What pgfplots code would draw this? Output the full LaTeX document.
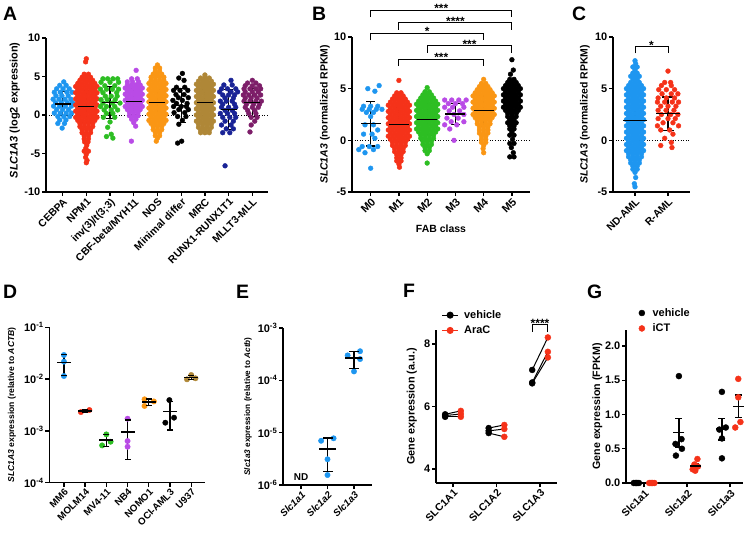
\documentclass[border=0pt]{standalone}
\usepackage{fontspec}
\setmainfont{Liberation Sans}
\usepackage{pgfplots}
\pgfplotsset{compat=1.18}

\definecolor{cBlue}{RGB}{30,150,240}
\definecolor{cRed}{RGB}{245,50,25}
\definecolor{cGreen}{RGB}{45,190,35}
\definecolor{cPurple}{RGB}{185,75,230}
\definecolor{cOrange}{RGB}{250,150,20}
\definecolor{cBrown}{RGB}{175,135,55}
\definecolor{cNavy}{RGB}{25,35,150}
\definecolor{cPlum}{RGB}{125,30,105}

\newcommand{\fsz}[1]{\fontsize{#1}{#1}\selectfont}

\pgfplotsset{
  panel/.style={
    scale only axis, clip=false, anchor=south west,
    axis x line*=bottom, axis y line*=left,
    axis line style={line width=1.3bp,-},
    every tick/.style={black, line width=1.3bp},
    tick align=outside, major tick length=4bp,
    minor tick num=0,
    tick label style={font=\bfseries\fsz{11}},
    yticklabel style={inner sep=1.5bp},
    xticklabel style={rotate=45, anchor=north east, inner sep=1bp, font=\bfseries\fsz{10.5}},
    ylabel style={anchor=center},
    label style={font=\bfseries\fsz{10.5}},
  },
  dots/.style={only marks, mark=*, color=#1, mark size=2.4bp, mark options={draw=none}},
  zeroline/.style={black, line width=0.8bp, dash pattern=on 1bp off 1.6bp, forget plot},
  meanbar/.style 2 args={black, only marks, mark=-, mark size=#1,
    mark options={line width=1.4bp},
    error bars/.cd, y dir=both, y explicit,
    error bar style={line width=1.2bp, black},
    error mark options={rotate=90, mark size=#2, line width=1.2bp, black}},
  whisk/.style={black, line width=1.2bp, mark=none},
  hbar/.style={black, only marks, mark=-, mark size=#1, mark options={line width=1.3bp}},
}

\begin{document}
\begin{tikzpicture}
\useasboundingbox (0bp,0bp) rectangle (750bp,536bp);

% ---------------- panel letters
\node[anchor=base west, inner sep=0pt, font=\bfseries\fsz{19.5}] at (3bp,515bp) {A};
\node[anchor=base west, inner sep=0pt, font=\bfseries\fsz{19.5}] at (312bp,515bp) {B};
\node[anchor=base west, inner sep=0pt, font=\bfseries\fsz{19.5}] at (572bp,515bp) {C};
\node[anchor=base west, inner sep=0pt, font=\bfseries\fsz{19.5}] at (3bp,237bp) {D};
\node[anchor=base west, inner sep=0pt, font=\bfseries\fsz{19.5}] at (236bp,237bp) {E};
\node[anchor=base west, inner sep=0pt, font=\bfseries\fsz{19.5}] at (403bp,238bp) {F};
\node[anchor=base west, inner sep=0pt, font=\bfseries\fsz{19.5}] at (587bp,237bp) {G};

% ================= A: WHO subtypes
\begin{axis}[panel, at={(46bp,344bp)}, width=222bp, height=154bp,
  xmin=-0.7, xmax=8.66, ymin=-10, ymax=10,
  xtick={0,...,8},
  xticklabels={CEBPA,NPM1,{inv(3)/t(3;3)},{CBF-beta/MYH11},NOS,{Minimal differ},MRC,RUNX1-RUNX1T1,MLLT3-MLL},
  ytick={-10,-5,0,5,10}, yticklabels={-10,-5,0,5,10},
  ylabel={\textit{SLC1A3} (log2 expression)},
  ylabel style={at={(axis description cs:-0.14,0.53)}, font=\bfseries\fsz{11}}]
\addplot[zeroline] coordinates {(-0.7,0) (8.66,0)};
% CEBPA
\addplot[dots=cBlue] coordinates {(0.05,4.3)
(-0.12,3.85)(0.15,3.85)(-0.25,3.4)(0.02,3.4)(0.28,3.4)
(-0.35,2.95)(-0.1,2.95)(0.18,2.95)(0.4,2.95)(-0.28,2.5)(-0.03,2.5)(0.24,2.5)
(-0.4,2.05)(-0.15,2.05)(0.1,2.05)(0.35,2.05)(-0.3,1.6)(-0.05,1.6)(0.2,1.6)(0.42,1.6)
(-0.38,1.15)(-0.13,1.15)(0.12,1.15)(0.37,1.15)(-0.25,0.7)(0,0.7)(0.25,0.7)
(-0.35,0.25)(-0.1,0.25)(0.15,0.25)(0.38,0.25)(-0.2,-0.2)(0.05,-0.2)(0.3,-0.2)
(-0.12,-0.65)(0.14,-0.65)(-0.2,-1.1)(0.08,-1.1)(-0.02,-1.7)};
% NPM1
\addplot[dots=cRed] coordinates {(1,7.3)(0.97,6.9)
(0.91,5.3)(1.09,5.3)(0.82,4.9)(1,4.9)(1.18,4.9)
(0.73,4.5)(0.91,4.5)(1.09,4.5)(1.27,4.5)
(0.64,4.1)(0.82,4.1)(1,4.1)(1.18,4.1)(1.36,4.1)
(0.55,3.7)(0.73,3.7)(0.91,3.7)(1.09,3.7)(1.27,3.7)(1.45,3.7)
(0.64,3.3)(0.82,3.3)(1,3.3)(1.18,3.3)(1.36,3.3)
(0.55,2.9)(0.73,2.9)(0.91,2.9)(1.09,2.9)(1.27,2.9)(1.45,2.9)
(0.64,2.5)(0.82,2.5)(1,2.5)(1.18,2.5)(1.36,2.5)
(0.55,2.1)(0.73,2.1)(0.91,2.1)(1.09,2.1)(1.27,2.1)(1.45,2.1)
(0.64,1.7)(0.82,1.7)(1,1.7)(1.18,1.7)(1.36,1.7)
(0.55,1.3)(0.73,1.3)(0.91,1.3)(1.09,1.3)(1.27,1.3)(1.45,1.3)
(0.64,0.9)(0.82,0.9)(1,0.9)(1.18,0.9)(1.36,0.9)
(0.55,0.5)(0.73,0.5)(0.91,0.5)(1.09,0.5)(1.27,0.5)(1.45,0.5)
(0.64,0.1)(0.82,0.1)(1,0.1)(1.18,0.1)(1.36,0.1)
(0.55,-0.3)(0.73,-0.3)(0.91,-0.3)(1.09,-0.3)(1.27,-0.3)(1.45,-0.3)
(0.64,-0.7)(0.82,-0.7)(1,-0.7)(1.18,-0.7)(1.36,-0.7)
(0.73,-1.1)(0.91,-1.1)(1.09,-1.1)(1.27,-1.1)
(0.73,-1.5)(0.91,-1.5)(1.09,-1.5)(1.27,-1.5)
(0.82,-1.9)(1,-1.9)(1.18,-1.9)(0.82,-2.3)(1,-2.3)(1.18,-2.3)
(0.91,-2.7)(1.09,-2.7)(0.91,-3.1)(1.09,-3.1)(0.93,-3.5)(1.07,-3.5)
(1.02,-3.9)(0.98,-4.3)(0.91,-4.7)(1.09,-4.7)
(1,-5.1)(0.97,-5.5)(1.03,-5.9)(1,-6.2)};
% inv(3)/t(3;3)
\addplot[dots=cGreen] coordinates {(1.7,4.7)(1.9,4.7)(2.12,4.7)(2.32,4.7)
(1.62,4.25)(2,4.25)(2.36,4.25)(1.78,3.8)(2.2,3.8)
(1.6,3.35)(1.85,3.35)(2.1,3.35)(2.36,3.35)(1.7,2.9)(2.28,2.9)
(1.8,2.45)(2.05,2.45)(2.3,2.45)(1.62,2.0)(1.88,2.0)(2.22,2.0)
(1.7,1.55)(2.1,1.55)(2.42,1.55)(1.6,1.1)(1.85,1.1)(2.2,1.1)
(1.75,0.65)(2.05,0.65)(2.32,0.65)(1.85,0.2)(2.12,0.2)
(1.72,-0.3)(2.2,-0.3)(2,-0.9)(1.9,-1.6)(2.05,-2.5)(1.85,-2.8)(2.12,-3.0)};
% CBF-beta/MYH11
\addplot[dots=cPurple] coordinates {(3.1,5.8)
(2.91,4.7)(3.15,4.7)(2.73,4.3)(2.95,4.3)(3.2,4.3)
(2.73,3.9)(2.91,3.9)(3.09,3.9)(3.27,3.9)
(2.64,3.5)(2.82,3.5)(3,3.5)(3.18,3.5)(3.36,3.5)
(2.73,3.1)(2.91,3.1)(3.09,3.1)(3.27,3.1)
(2.64,2.7)(2.82,2.7)(3,2.7)(3.18,2.7)(3.36,2.7)
(2.73,2.3)(2.91,2.3)(3.09,2.3)(3.27,2.3)
(2.64,1.9)(2.82,1.9)(3,1.9)(3.18,1.9)(3.36,1.9)
(2.73,1.5)(2.91,1.5)(3.09,1.5)(3.27,1.5)
(2.64,1.1)(2.82,1.1)(3,1.1)(3.18,1.1)(3.36,1.1)
(2.73,0.7)(2.91,0.7)(3.09,0.7)(3.27,0.7)
(2.82,0.3)(3,0.3)(3.18,0.3)(2.82,-0.1)(3,-0.1)(3.18,-0.1)
(2.91,-0.55)(3.09,-0.55)(3,-1.0)(3.08,-1.45)(2.9,-3.4)};
% NOS
\addplot[dots=cOrange] coordinates {(4,6.5)
(3.91,6.1)(4.09,6.1)(3.91,5.7)(4.09,5.7)(3.82,5.3)(4,5.3)(4.18,5.3)
(3.73,4.9)(3.91,4.9)(4.09,4.9)(4.27,4.9)(3.73,4.5)(3.91,4.5)(4.09,4.5)(4.27,4.5)
(3.64,4.1)(3.82,4.1)(4,4.1)(4.18,4.1)(4.36,4.1)
(3.73,3.7)(3.91,3.7)(4.09,3.7)(4.27,3.7)
(3.64,3.3)(3.82,3.3)(4,3.3)(4.18,3.3)(4.36,3.3)
(3.73,2.9)(3.91,2.9)(4.09,2.9)(4.27,2.9)
(3.64,2.5)(3.82,2.5)(4,2.5)(4.18,2.5)(4.36,2.5)
(3.73,2.1)(3.91,2.1)(4.09,2.1)(4.27,2.1)
(3.64,1.7)(3.82,1.7)(4,1.7)(4.18,1.7)(4.36,1.7)
(3.73,1.3)(3.91,1.3)(4.09,1.3)(4.27,1.3)
(3.64,0.9)(3.82,0.9)(4,0.9)(4.18,0.9)(4.36,0.9)
(3.73,0.5)(3.91,0.5)(4.09,0.5)(4.27,0.5)
(3.64,0.1)(3.82,0.1)(4,0.1)(4.18,0.1)(4.36,0.1)
(3.73,-0.3)(3.91,-0.3)(4.09,-0.3)(4.27,-0.3)
(3.64,-0.7)(3.82,-0.7)(4,-0.7)(4.18,-0.7)(4.36,-0.7)
(3.73,-1.1)(3.91,-1.1)(4.09,-1.1)(4.27,-1.1)
(3.82,-1.5)(4,-1.5)(4.18,-1.5)(3.82,-1.9)(4,-1.9)(4.18,-1.9)
(3.91,-2.3)(4.09,-2.3)(3.91,-2.7)(4.09,-2.7)(4,-3.0)(3.95,-3.4)};
% Minimal differentiation
\addplot[dots=black] coordinates {(5.05,5.4)(4.9,4.8)(5.12,4.5)
(4.8,3.6)(5.15,3.6)(4.68,3.2)(4.95,3.2)(5.28,3.2)(4.78,2.65)(5.12,2.65)
(4.88,2.25)(5.3,2.25)(4.65,1.9)(5.05,1.9)(4.8,1.5)(5.25,1.5)
(4.68,1.1)(5,1.1)(5.22,1.1)(4.9,0.7)(5.3,0.7)(4.7,0.3)(5.15,0.3)
(4.85,-0.2)(5.2,-0.2)(5.05,-0.7)(4.9,-1.2)(5.02,-3.4)(4.85,-3.65)};
% MRC
\addplot[dots=cBrown] coordinates {(6,5.2)
(5.82,4.8)(6,4.8)(6.18,4.8)(5.73,4.4)(5.91,4.4)(6.09,4.4)(6.27,4.4)
(5.64,4.0)(5.82,4.0)(6,4.0)(6.18,4.0)(6.36,4.0)
(5.73,3.6)(5.91,3.6)(6.09,3.6)(6.27,3.6)
(5.64,3.2)(5.82,3.2)(6,3.2)(6.18,3.2)(6.36,3.2)
(5.73,2.8)(5.91,2.8)(6.09,2.8)(6.27,2.8)
(5.64,2.4)(5.82,2.4)(6,2.4)(6.18,2.4)(6.36,2.4)
(5.73,2.0)(5.91,2.0)(6.09,2.0)(6.27,2.0)
(5.64,1.6)(5.82,1.6)(6,1.6)(6.18,1.6)(6.36,1.6)
(5.73,1.2)(5.91,1.2)(6.09,1.2)(6.27,1.2)
(5.64,0.8)(5.82,0.8)(6,0.8)(6.18,0.8)(6.36,0.8)
(5.73,0.4)(5.91,0.4)(6.09,0.4)(6.27,0.4)
(5.64,0.0)(5.82,0.0)(6,0.0)(6.18,0.0)(6.36,0.0)
(5.73,-0.4)(5.91,-0.4)(6.09,-0.4)(6.27,-0.4)
(5.64,-0.8)(5.82,-0.8)(6,-0.8)(6.18,-0.8)(6.36,-0.8)
(5.73,-1.2)(5.91,-1.2)(6.09,-1.2)(6.27,-1.2)
(5.73,-1.6)(5.91,-1.6)(6.09,-1.6)(6.27,-1.6)
(5.82,-2.0)(6,-2.0)(6.18,-2.0)(5.82,-2.3)(6,-2.3)(6.18,-2.3)};
% RUNX1-RUNX1T1
\addplot[dots=cNavy] coordinates {(7.1,4.5)
(6.8,3.9)(7.15,3.9)(6.7,3.4)(6.95,3.4)(7.3,3.4)(6.62,3.0)(7.1,3.0)(7.38,3.0)
(6.75,2.6)(7,2.6)(7.25,2.6)(6.85,2.2)(7.2,2.2)(6.65,1.8)(6.9,1.8)(7.15,1.8)
(6.75,1.4)(7.25,1.4)(6.7,1.0)(7,1.0)(7.3,1.0)(6.85,0.6)(7.15,0.6)
(6.65,0.2)(6.95,0.2)(7.25,0.2)(6.75,-0.3)(7.05,-0.3)(7.3,-0.3)
(6.85,-0.8)(7.2,-0.8)(6.7,-1.3)(7.1,-1.3)(6.9,-1.8)(7.2,-1.8)
(6.75,-2.3)(7.05,-2.3)(6.85,-6.6)};
% MLLT3-MLL
\addplot[dots=cPlum] coordinates {(8,4.5)
(7.8,4.15)(8.15,4.15)(7.7,3.8)(8,3.8)(8.3,3.8)
(7.65,3.4)(7.9,3.4)(8.15,3.4)(8.35,3.4)(7.7,3.0)(8,3.0)(8.25,3.0)
(7.62,2.6)(7.85,2.6)(8.1,2.6)(8.35,2.6)(7.7,2.2)(7.95,2.2)(8.2,2.2)
(7.65,1.8)(7.9,1.8)(8.15,1.8)(8.38,1.8)(7.75,1.4)(8.05,1.4)(8.3,1.4)
(7.7,1.0)(8,1.0)(8.25,1.0)(7.8,0.6)(8.1,0.6)(7.85,0.2)(8.15,0.2)
(7.95,-0.3)(8.2,-0.3)(8.1,-0.8)(7.95,-1.3)(7.9,-2.2)};
% mean +- SD
\addplot[meanbar={8bp}{4.5bp}] table[row sep=\\, x=x, y=m, y error=s] {
x m s\\ 0 1.45 1.55\\ 1 1.08 2.12\\ 2 1.6 2.06\\ 3 1.72 1.72\\ 4 1.64 1.72\\
5 1.2 2.2\\ 6 1.6 1.7\\ 7 0.73 2.63\\ 8 1.6 1.8\\};
\end{axis}

% ================= B: FAB class
\begin{axis}[panel, at={(352bp,344bp)}, width=178bp, height=155bp,
  xmin=-0.66, xmax=5.64, ymin=-5, ymax=10,
  xtick={0,...,5}, xticklabels={M0,M1,M2,M3,M4,M5},
  xticklabel style={font=\bfseries\fsz{11}},
  ytick={-5,0,5,10}, yticklabels={-5,0,5,10},
  ylabel={\textit{SLC1A3} (normalized RPKM)},
  ylabel style={at={(axis description cs:-0.152,0.5)}},
  xlabel={FAB class},
  xlabel style={at={(axis description cs:0.5,0)}, anchor=center, yshift=-37bp}]
\addplot[zeroline] coordinates {(-0.66,0) (5.64,0)};
% M0
\addplot[dots=cBlue] coordinates {(0.3,5.3)(-0.1,5.0)(0.15,4.75)
(-0.25,3.3)(0,3.3)(0.25,3.3)(-0.3,3.0)(-0.05,3.0)(0.2,3.0)(0.4,3.0)
(-0.15,2.7)(0.1,2.7)(0,2.3)(-0.2,1.5)(0.1,1.5)(0.25,1.0)(-0.25,0.6)(0.05,0.6)
(0.15,0.2)(-0.3,-0.6)(-0.05,-0.6)(0.25,-0.6)(-0.42,-0.9)(0.1,-0.9)(-0.2,-1.2)(0,-2.7)};
% M1
\addplot[dots=cRed] coordinates {(1,5.8)
(0.925,4.6)(1.075,4.6)(0.85,4.3)(1,4.3)(1.15,4.3)
(0.775,4.0)(0.925,4.0)(1.075,4.0)(1.225,4.0)
(0.7,3.7)(0.85,3.7)(1,3.7)(1.15,3.7)(1.3,3.7)
(0.625,3.4)(0.775,3.4)(0.925,3.4)(1.075,3.4)(1.225,3.4)(1.375,3.4)
(0.7,3.1)(0.85,3.1)(1,3.1)(1.15,3.1)(1.3,3.1)
(0.625,2.8)(0.775,2.8)(0.925,2.8)(1.075,2.8)(1.225,2.8)(1.375,2.8)
(0.7,2.5)(0.85,2.5)(1,2.5)(1.15,2.5)(1.3,2.5)
(0.625,2.2)(0.775,2.2)(0.925,2.2)(1.075,2.2)(1.225,2.2)(1.375,2.2)
(0.7,1.9)(0.85,1.9)(1,1.9)(1.15,1.9)(1.3,1.9)
(0.625,1.6)(0.775,1.6)(0.925,1.6)(1.075,1.6)(1.225,1.6)(1.375,1.6)
(0.7,1.3)(0.85,1.3)(1,1.3)(1.15,1.3)(1.3,1.3)
(0.625,1.0)(0.775,1.0)(0.925,1.0)(1.075,1.0)(1.225,1.0)(1.375,1.0)
(0.7,0.7)(0.85,0.7)(1,0.7)(1.15,0.7)(1.3,0.7)
(0.625,0.4)(0.775,0.4)(0.925,0.4)(1.075,0.4)(1.225,0.4)(1.375,0.4)
(0.7,0.1)(0.85,0.1)(1,0.1)(1.15,0.1)(1.3,0.1)
(0.775,-0.2)(0.925,-0.2)(1.075,-0.2)(1.225,-0.2)
(0.775,-0.5)(0.925,-0.5)(1.075,-0.5)(1.225,-0.5)
(0.85,-0.8)(1,-0.8)(1.15,-0.8)(0.85,-1.1)(1,-1.1)(1.15,-1.1)
(0.925,-1.4)(1.075,-1.4)(0.925,-1.7)(1.075,-1.7)(0.925,-2.0)(1.075,-2.0)
(1,-2.3)(1.02,-2.6)};
% M2
\addplot[dots=cGreen] coordinates {(2,5.1)
(1.925,4.7)(2.075,4.7)(1.85,4.4)(2,4.4)(2.15,4.4)
(1.775,4.1)(1.925,4.1)(2.075,4.1)(2.225,4.1)
(1.7,3.8)(1.85,3.8)(2,3.8)(2.15,3.8)(2.3,3.8)
(1.625,3.5)(1.775,3.5)(1.925,3.5)(2.075,3.5)(2.225,3.5)(2.375,3.5)
(1.7,3.2)(1.85,3.2)(2,3.2)(2.15,3.2)(2.3,3.2)
(1.625,2.9)(1.775,2.9)(1.925,2.9)(2.075,2.9)(2.225,2.9)(2.375,2.9)
(1.7,2.6)(1.85,2.6)(2,2.6)(2.15,2.6)(2.3,2.6)
(1.625,2.3)(1.775,2.3)(1.925,2.3)(2.075,2.3)(2.225,2.3)(2.375,2.3)
(1.7,2.0)(1.85,2.0)(2,2.0)(2.15,2.0)(2.3,2.0)
(1.625,1.7)(1.775,1.7)(1.925,1.7)(2.075,1.7)(2.225,1.7)(2.375,1.7)
(1.7,1.4)(1.85,1.4)(2,1.4)(2.15,1.4)(2.3,1.4)
(1.625,1.1)(1.775,1.1)(1.925,1.1)(2.075,1.1)(2.225,1.1)(2.375,1.1)
(1.7,0.8)(1.85,0.8)(2,0.8)(2.15,0.8)(2.3,0.8)
(1.775,0.5)(1.925,0.5)(2.075,0.5)(2.225,0.5)
(1.775,0.2)(1.925,0.2)(2.075,0.2)(2.225,0.2)
(1.85,-0.1)(2,-0.1)(2.15,-0.1)(1.85,-0.4)(2,-0.4)(2.15,-0.4)
(1.925,-0.7)(2.075,-0.7)(1.925,-1.0)(2.075,-1.0)(2,-1.3)(2,-2.2)};
% M3
\addplot[dots=cPurple] coordinates {(2.62,3.9)(2.87,3.9)(3.12,3.9)(3.38,3.9)
(2.75,3.55)(3,3.55)(3.25,3.55)(2.62,3.2)(2.9,3.2)(3.3,3.2)
(2.78,2.85)(3.15,2.85)(2.95,2.5)(3.3,2.5)(2.7,2.15)(3.1,2.15)
(2.85,1.8)(3.3,1.8)(2.62,1.5)(3.05,1.5)(2.8,1.1)(2.95,0.0)};
% M4
\addplot[dots=cOrange] coordinates {(4,5.9)
(3.925,5.5)(4.075,5.5)(3.85,5.2)(4,5.2)(4.15,5.2)
(3.775,4.9)(3.925,4.9)(4.075,4.9)(4.225,4.9)
(3.7,4.6)(3.85,4.6)(4,4.6)(4.15,4.6)(4.3,4.6)
(3.625,4.3)(3.775,4.3)(3.925,4.3)(4.075,4.3)(4.225,4.3)(4.375,4.3)
(3.7,4.0)(3.85,4.0)(4,4.0)(4.15,4.0)(4.3,4.0)
(3.625,3.7)(3.775,3.7)(3.925,3.7)(4.075,3.7)(4.225,3.7)(4.375,3.7)
(3.7,3.4)(3.85,3.4)(4,3.4)(4.15,3.4)(4.3,3.4)
(3.625,3.1)(3.775,3.1)(3.925,3.1)(4.075,3.1)(4.225,3.1)(4.375,3.1)
(3.7,2.8)(3.85,2.8)(4,2.8)(4.15,2.8)(4.3,2.8)
(3.625,2.5)(3.775,2.5)(3.925,2.5)(4.075,2.5)(4.225,2.5)(4.375,2.5)
(3.7,2.2)(3.85,2.2)(4,2.2)(4.15,2.2)(4.3,2.2)
(3.775,1.9)(3.925,1.9)(4.075,1.9)(4.225,1.9)
(3.775,1.6)(3.925,1.6)(4.075,1.6)(4.225,1.6)
(3.85,1.3)(4,1.3)(4.15,1.3)(3.85,1.0)(4,1.0)(4.15,1.0)(3.85,0.7)(4,0.7)(4.15,0.7)
(3.925,0.4)(4.075,0.4)(3.925,0.1)(4.075,0.1)(3.925,-0.2)(4.075,-0.2)
(4,-0.5)(3.98,-0.8)(4,-1.2)};
% M5
\addplot[dots=black] coordinates {(5,7.8)(5.05,6.8)(4.95,6.4)
(4.925,5.9)(5.075,5.9)(4.85,5.6)(5,5.6)(5.15,5.6)
(4.775,5.3)(4.925,5.3)(5.075,5.3)(5.225,5.3)
(4.7,5.0)(4.85,5.0)(5,5.0)(5.15,5.0)(5.3,5.0)
(4.775,4.7)(4.925,4.7)(5.075,4.7)(5.225,4.7)
(4.7,4.4)(4.85,4.4)(5,4.4)(5.15,4.4)(5.3,4.4)
(4.775,4.1)(4.925,4.1)(5.075,4.1)(5.225,4.1)
(4.7,3.8)(4.85,3.8)(5,3.8)(5.15,3.8)(5.3,3.8)
(4.775,3.5)(4.925,3.5)(5.075,3.5)(5.225,3.5)
(4.7,3.2)(4.85,3.2)(5,3.2)(5.15,3.2)(5.3,3.2)
(4.775,2.9)(4.925,2.9)(5.075,2.9)(5.225,2.9)
(4.85,2.6)(5,2.6)(5.15,2.6)(4.85,2.3)(5,2.3)(5.15,2.3)
(4.925,2.0)(5.075,2.0)(4.85,1.7)(5,1.7)(5.15,1.7)
(4.925,1.4)(5.075,1.4)(4.925,1.1)(5.075,1.1)(5,0.8)
(4.925,0.5)(5.075,0.5)(5.02,0.1)(4.925,-0.3)(5.075,-0.3)
(4.98,-0.7)(5.05,-1.2)(4.925,-1.6)(5.075,-1.6)};
\addplot[meanbar={10bp}{4.5bp}] table[row sep=\\, x=x, y=m, y error=s] {
x m s\\ 0 1.61 2.16\\ 1 1.52 1.70\\ 2 2.03 1.57\\ 3 2.55 1.05\\ 4 2.87 1.48\\ 5 3.35 1.55\\};
% pairwise comparisons
\draw[line width=1bp] (axis cs:0,11.92) -- (axis cs:0,12.6) -- (axis cs:5,12.6) -- (axis cs:5,11.92);
\node[anchor=base, inner sep=0pt, font=\bfseries\fsz{12}] at (axis cs:2.5,12.36) {***};
\draw[line width=1bp] (axis cs:1,10.72) -- (axis cs:1,11.4) -- (axis cs:5,11.4) -- (axis cs:5,10.72);
\node[anchor=base, inner sep=0pt, font=\bfseries\fsz{12}] at (axis cs:3,11.16) {****};
\draw[line width=1bp] (axis cs:0,9.67) -- (axis cs:0,10.35) -- (axis cs:4,10.35) -- (axis cs:4,9.67);
\node[anchor=base, inner sep=0pt, font=\bfseries\fsz{12}] at (axis cs:2,10.11) {*};
\draw[line width=1bp] (axis cs:2,8.47) -- (axis cs:2,9.15) -- (axis cs:5,9.15) -- (axis cs:5,8.47);
\node[anchor=base, inner sep=0pt, font=\bfseries\fsz{12}] at (axis cs:3.5,8.91) {***};
\draw[line width=1bp] (axis cs:1,7.17) -- (axis cs:1,7.85) -- (axis cs:4,7.85) -- (axis cs:4,7.17);
\node[anchor=base, inner sep=0pt, font=\bfseries\fsz{12}] at (axis cs:2.5,7.61) {***};
\end{axis}

% ================= C: diagnosis vs relapse
\begin{axis}[panel, at={(613bp,344bp)}, width=77bp, height=155bp,
  xmin=-0.667, xmax=1.667, ymin=-5, ymax=10,
  xtick={0,1}, xticklabels={ND-AML,R-AML},
  ytick={-5,0,5,10}, yticklabels={-5,0,5,10},
  ylabel={\textit{SLC1A3} (normalized RPKM)},
  ylabel style={at={(axis description cs:-0.364,0.5)}}]
\addplot[zeroline] coordinates {(-0.667,0) (1.667,0)};
\addplot[dots=cBlue] coordinates {(0,7.7)(0.02,7.4)(-0.065,7.1)(0.065,7.1)(0,6.8)
(-0.065,6.5)(0.065,6.5)(-0.13,6.2)(0,6.2)(0.13,6.2)(-0.065,5.9)(0.065,5.9)
(-0.13,5.6)(0,5.6)(0.13,5.6)(-0.195,5.3)(-0.065,5.3)(0.065,5.3)(0.195,5.3)
(-0.26,5.0)(-0.13,5.0)(0,5.0)(0.13,5.0)(0.26,5.0)
(-0.195,4.7)(-0.065,4.7)(0.065,4.7)(0.195,4.7)
(-0.26,4.4)(-0.13,4.4)(0,4.4)(0.13,4.4)(0.26,4.4)
(-0.195,4.1)(-0.065,4.1)(0.065,4.1)(0.195,4.1)
(-0.26,3.8)(-0.13,3.8)(0,3.8)(0.13,3.8)(0.26,3.8)
(-0.195,3.5)(-0.065,3.5)(0.065,3.5)(0.195,3.5)
(-0.26,3.2)(-0.13,3.2)(0,3.2)(0.13,3.2)(0.26,3.2)
(-0.195,2.9)(-0.065,2.9)(0.065,2.9)(0.195,2.9)
(-0.26,2.6)(-0.13,2.6)(0,2.6)(0.13,2.6)(0.26,2.6)
(-0.195,2.3)(-0.065,2.3)(0.065,2.3)(0.195,2.3)
(-0.26,2.0)(-0.13,2.0)(0,2.0)(0.13,2.0)(0.26,2.0)
(-0.195,1.7)(-0.065,1.7)(0.065,1.7)(0.195,1.7)
(-0.26,1.4)(-0.13,1.4)(0,1.4)(0.13,1.4)(0.26,1.4)
(-0.195,1.1)(-0.065,1.1)(0.065,1.1)(0.195,1.1)
(-0.26,0.8)(-0.13,0.8)(0,0.8)(0.13,0.8)(0.26,0.8)
(-0.195,0.5)(-0.065,0.5)(0.065,0.5)(0.195,0.5)
(-0.26,0.2)(-0.13,0.2)(0,0.2)(0.13,0.2)(0.26,0.2)
(-0.195,-0.1)(-0.065,-0.1)(0.065,-0.1)(0.195,-0.1)
(-0.26,-0.4)(-0.13,-0.4)(0,-0.4)(0.13,-0.4)(0.26,-0.4)
(-0.195,-0.7)(-0.065,-0.7)(0.065,-0.7)(0.195,-0.7)
(-0.26,-1.0)(-0.13,-1.0)(0,-1.0)(0.13,-1.0)(0.26,-1.0)
(-0.195,-1.3)(-0.065,-1.3)(0.065,-1.3)(0.195,-1.3)
(-0.195,-1.6)(-0.065,-1.6)(0.065,-1.6)(0.195,-1.6)
(-0.13,-1.9)(0,-1.9)(0.13,-1.9)(-0.13,-2.2)(0,-2.2)(0.13,-2.2)
(-0.065,-2.5)(0.065,-2.5)(-0.065,-2.8)(0.065,-2.8)
(0,-3.1)(0.02,-3.6)(-0.02,-4.2)(0,-4.5)};
\addplot[dots=cRed] coordinates {(1,6.7)(0.9,5.6)(1.08,5.6)(0.8,5.3)(1.1,5.3)
(0.72,4.9)(0.95,4.9)(1.2,4.9)(0.82,4.5)(1.1,4.5)(1.3,4.5)(0.7,4.1)(0.95,4.1)(1.2,4.1)
(0.68,3.7)(0.9,3.7)(1.13,3.7)(1.32,3.7)(0.78,3.3)(1,3.3)(1.24,3.3)
(0.7,2.9)(0.94,2.9)(1.18,2.9)(0.8,2.5)(1.08,2.5)(1.3,2.5)(0.7,2.1)(1,2.1)(1.22,2.1)
(0.85,1.7)(1.15,1.7)(0.68,1.4)(1.32,1.4)(0.78,1.0)(1.05,1.0)(1.15,0.6)
(0.9,0.2)(1.1,-0.2)(0.78,-0.5)(1.12,-0.7)};
\addplot[meanbar={12bp}{6bp}] table[row sep=\\, x=x, y=m, y error=s] {
x m s\\ 0 1.94 1.83\\ 1 2.58 1.62\\};
\draw[line width=1bp] (axis cs:0,8.42) -- (axis cs:0,9.06) -- (axis cs:1,9.06) -- (axis cs:1,8.42);
\node[anchor=base, inner sep=0pt, font=\bfseries\fsz{12}] at (axis cs:0.5,8.82) {*};
\end{axis}

% ================= D: human cell lines (log scale)
\begin{axis}[panel, at={(49.3bp,53.3bp)}, width=155.7bp, height=155.4bp,
  ymode=log, ymin=1e-4, ymax=1e-1, yminorticks=false,
  ytick={1e-4,1e-3,1e-2,1e-1},
  yticklabels={10\textsuperscript{-4},10\textsuperscript{-3},10\textsuperscript{-2},10\textsuperscript{-1}},
  xmin=-0.69, xmax=6.65, xtick={0,...,6},
  xticklabels={MM6,MOLM14,MV4-11,NB4,NOMO1,OCI-AML3,U937},
  xticklabel style={font=\bfseries\fsz{9.7}},
  ylabel={\textit{SLC1A3} expression (relative to \textit{ACTB})},
  ylabel style={at={(axis description cs:-0.24,0.5)}, font=\bfseries\fsz{8.6}}]
\addplot[dots=cBlue, mark size=2.7bp] coordinates {(0,0.0292)(0,0.0217)(0,0.01148)};
\addplot[dots=cRed, mark size=2.7bp] coordinates {(0.8,0.00231)(1.2,0.00253)};
\addplot[dots=cGreen, mark size=2.7bp] coordinates {(2,0.000857)(1.8,0.000525)(2.2,0.000618)};
\addplot[dots=cPurple, mark size=2.7bp] coordinates {(3,0.00172)(3,0.000637)(3,0.000495)};
\addplot[dots=cOrange, mark size=2.7bp] coordinates {(3.8,0.00407)(3.8,0.00303)(4.24,0.00371)};
\addplot[dots=black, mark size=2.7bp] coordinates {(4.97,0.00394)(4.78,0.00144)(5.19,0.0018)};
\addplot[dots=cBrown, mark size=2.7bp] coordinates {(5.8,0.0099)(6,0.0120)(6.2,0.01036)};
% mean +- SD
\addplot[whisk] coordinates {(0,0.0119)(0,0.0297)};
\addplot[whisk] coordinates {(1,0.00226)(1,0.00258)};
\addplot[whisk] coordinates {(2,0.0005)(2,0.00084)};
\addplot[whisk] coordinates {(3,0.00028)(3,0.00162)};
\addplot[whisk] coordinates {(4,0.00307)(4,0.00413)};
\addplot[whisk] coordinates {(5,0.00104)(5,0.00374)};
\addplot[whisk] coordinates {(6,0.0097)(6,0.0119)};
\addplot[hbar=3bp] coordinates {(0,0.0119)(0,0.0297)(1,0.00226)(1,0.00258)(2,0.0005)(2,0.00084)
(3,0.00028)(3,0.00162)(4,0.00307)(4,0.00413)(5,0.00104)(5,0.00374)(6,0.0097)(6,0.0119)};
\addplot[hbar=7bp] coordinates {(0,0.0208)(1,0.00242)(2,0.000667)(3,0.00095)(4,0.0036)(5,0.00239)(6,0.0108)};
\end{axis}

% ================= E: mouse cells (log scale)
\begin{axis}[panel, at={(283bp,51bp)}, width=89bp, height=157bp,
  ymode=log, ymin=1e-6, ymax=1e-3, yminorticks=false,
  ytick={1e-6,1e-5,1e-4,1e-3},
  yticklabels={10\textsuperscript{-6},10\textsuperscript{-5},10\textsuperscript{-4},10\textsuperscript{-3}},
  xmin=0.32, xmax=3.68, xtick={1,2,3},
  xticklabels={\textit{Slc1a1},\textit{Slc1a2},\textit{Slc1a3}},
  xticklabel style={font=\bfseries\fsz{9.8}},
  ylabel={\textit{Slc1a3} expression (relative to \textit{Actb})},
  ylabel style={at={(axis description cs:-0.393,0.5)}, font=\bfseries\fsz{8.2}}]
\addplot[dots=cBlue, mark size=2.7bp] coordinates {(1.76,7.0e-6)(2.23,7.8e-6)(2,3.1e-6)(2,1.55e-6)
(2.76,3.0e-4)(3.23,3.6e-4)(3.23,2.55e-4)(3,1.48e-4)};
\addplot[whisk] coordinates {(2,1.8e-6)(2,7.9e-6)};
\addplot[whisk] coordinates {(3,1.7e-4)(3,3.6e-4)};
\addplot[hbar=5bp] coordinates {(2,1.8e-6)(2,7.9e-6)(3,1.7e-4)(3,3.6e-4)};
\addplot[hbar=8.5bp] coordinates {(2,4.86e-6)(3,2.66e-4)};
\node[font=\bfseries\fsz{10}] at (axis cs:1,1.42e-6) {ND};
\end{axis}

% ================= F: AraC treatment
\begin{axis}[panel, at={(436bp,53bp)}, width=121bp, height=153bp,
  ymin=3.552, ymax=8.448, ytick={4,6,8}, yticklabels={4,6,8},
  xmin=0.61, xmax=3.39, xtick={1,2,3},
  xticklabels={SLC1A1,SLC1A2,SLC1A3},
  ylabel={Gene expression (a.u.)},
  ylabel style={at={(axis description cs:-0.2,0.5)}, font=\bfseries\fsz{10.9}},
  legend image code/.code={\draw[mark repeat=2,mark phase=2,#1] plot coordinates {(0bp,0bp)(8bp,0bp)(16bp,0bp)}; \path (0bp,0bp) (20bp,0bp);},
  legend style={draw=none, fill=none, at={(axis description cs:0.045,1.139)}, anchor=north west,
    font=\bfseries\fsz{11}, inner sep=0pt, row sep=3bp, nodes={inner sep=1.5bp}},
  legend cell align=left]
\addlegendimage{black, line width=1bp, mark=*, mark size=3bp, mark options={draw=none, fill=black}}
\addlegendentry{vehicle}
\addlegendimage{cRed, line width=1bp, mark=*, mark size=3bp, mark options={draw=none, fill=cRed}}
\addlegendentry{AraC}
\addplot[black, line width=1bp, forget plot] coordinates {(0.82,5.75)(1.18,5.86)};
\addplot[black, line width=1bp, forget plot] coordinates {(0.82,5.71)(1.18,5.76)};
\addplot[black, line width=1bp, forget plot] coordinates {(0.82,5.67)(1.18,5.67)};
\addplot[black, line width=1bp, forget plot] coordinates {(1.82,5.31)(2.18,5.41)};
\addplot[black, line width=1bp, forget plot] coordinates {(1.82,5.22)(2.18,5.28)};
\addplot[black, line width=1bp, forget plot] coordinates {(1.82,5.15)(2.18,5.03)};
\addplot[black, line width=1bp, forget plot] coordinates {(2.82,7.17)(3.18,8.21)};
\addplot[black, line width=1bp, forget plot] coordinates {(2.82,6.77)(3.18,7.75)};
\addplot[black, line width=1bp, forget plot] coordinates {(2.82,6.74)(3.18,7.57)};
\addplot[forget plot, dots=black, mark size=3bp] coordinates {(0.82,5.75)(0.82,5.71)(0.82,5.67)
(1.82,5.31)(1.82,5.22)(1.82,5.15)(2.82,7.17)(2.82,6.77)(2.82,6.74)};
\addplot[forget plot, dots=cRed, mark size=3bp] coordinates {(1.18,5.86)(1.18,5.76)(1.18,5.67)
(2.18,5.41)(2.18,5.28)(2.18,5.03)(3.18,8.21)(3.18,7.75)(3.18,7.57)};
\draw[line width=1bp] (axis cs:2.82,8.39) -- (axis cs:2.82,8.61) -- (axis cs:3.18,8.61) -- (axis cs:3.18,8.39);
\node[anchor=base, inner sep=0pt, font=\bfseries\fsz{12}] at (axis cs:3,8.53) {****};
\end{axis}

% ================= G: iCT treatment
\begin{axis}[panel, at={(626bp,53bp)}, width=117bp, height=153bp,
  ymin=0, ymax=2.233, ytick={0,0.5,1,1.5,2}, yticklabels={0.0,0.5,1.0,1.5,2.0},
  xmin=0.58, xmax=3.3, xtick={1,2,3},
  xticklabels={Slc1a1,Slc1a2,Slc1a3},
  ylabel={Gene expression (FPKM)},
  ylabel style={at={(axis description cs:-0.244,0.5)}, font=\bfseries\fsz{10.7}},
  legend image code/.code={\draw[#1] plot coordinates {(4bp,0bp)}; \path (0bp,0bp) (13bp,0bp);},
  legend style={draw=none, fill=none, at={(axis description cs:0.098,1.153)}, anchor=north west,
    font=\bfseries\fsz{11}, inner sep=0pt, row sep=3bp, nodes={inner sep=1.5bp}},
  legend cell align=left]
\addplot[dots=black, mark size=3bp] coordinates {(0.76,0)(0.8,0)(0.84,0)(0.88,0)(0.82,0)
(1.81,1.56)(1.87,0.64)(1.73,0.57)(1.88,0.50)(1.74,0.40)
(2.81,1.33)(2.9,0.81)(2.75,0.78)(2.81,0.65)(2.81,0.36)};
\addlegendentry{vehicle}
\addplot[dots=cRed, mark size=3bp] coordinates {(1.12,0)(1.16,0)(1.2,0)(1.24,0)(1.18,0)
(2.24,0.35)(2.17,0.27)(2.25,0.24)(2.13,0.20)(2.19,0.18)
(3.19,1.52)(3.19,1.25)(3.24,0.89)(3.12,0.81)};
\addlegendentry{iCT}
\addplot[forget plot, meanbar={5.5bp}{3.5bp}] table[row sep=\\, x=x, y=m, y error=s] {
x m s\\ 1.81 0.734 0.21\\ 2.19 0.248 0.03\\ 2.81 0.786 0.157\\ 3.19 1.118 0.165\\};
\end{axis}
\end{tikzpicture}
\end{document}
